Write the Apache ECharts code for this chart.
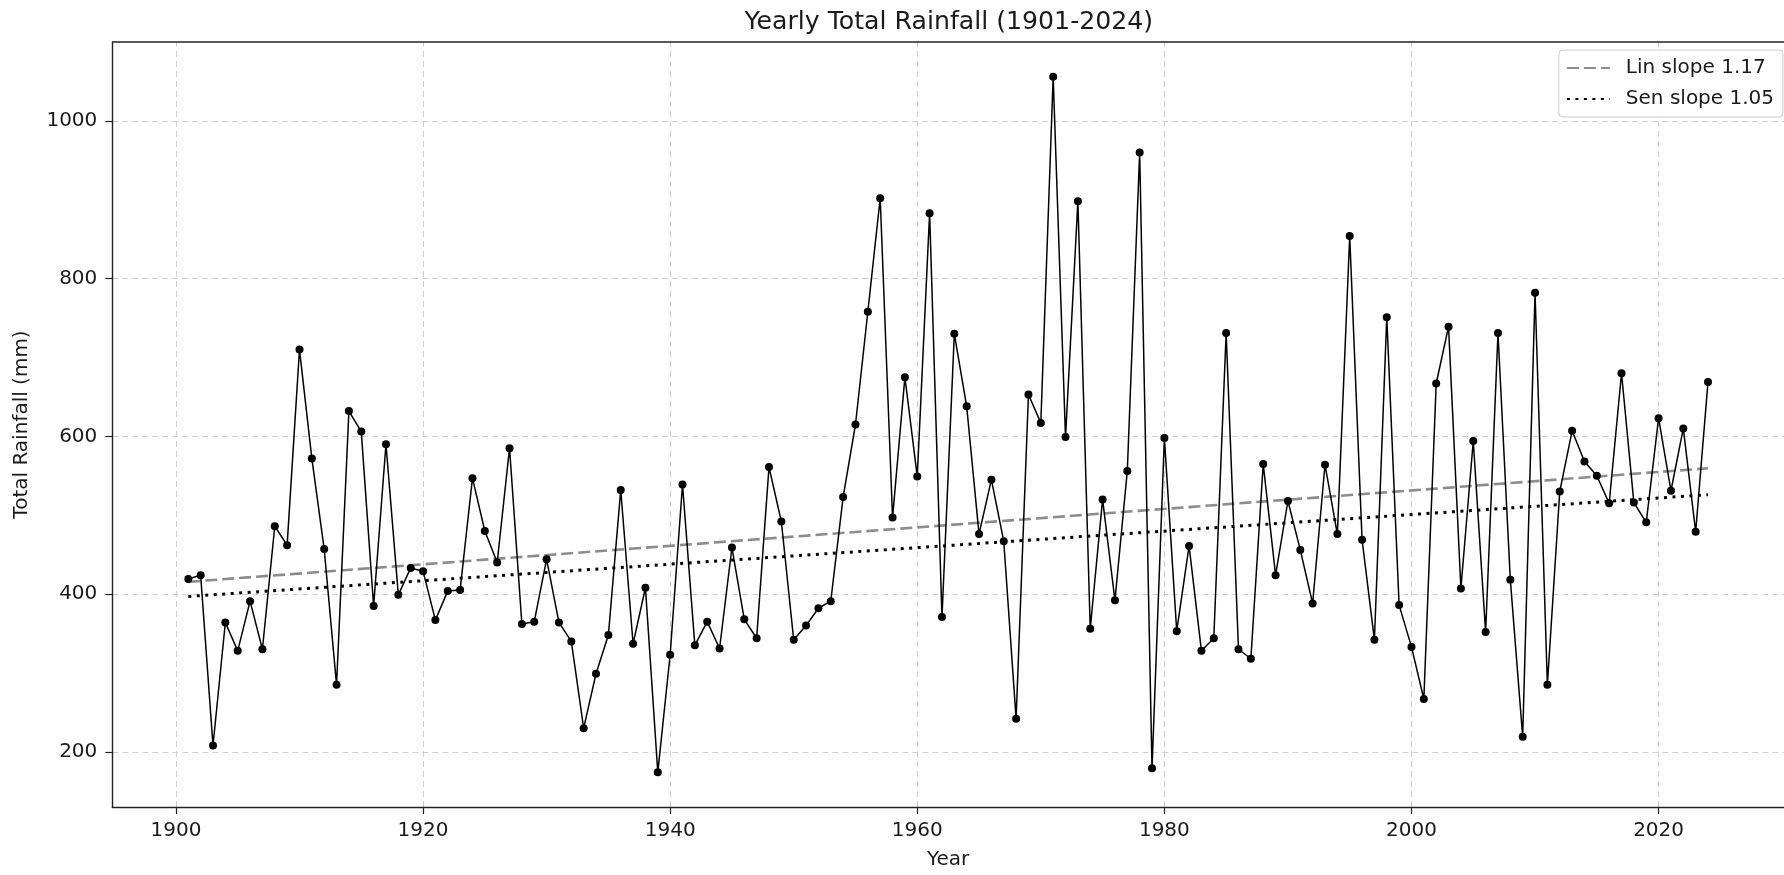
<!DOCTYPE html>
<html>
<head>
<meta charset="utf-8">
<title>Yearly Total Rainfall</title>
<script src="https://cdn.jsdelivr.net/npm/echarts@6/dist/echarts.min.js"></script>
<style>
  html, body { margin: 0; padding: 0; background: #fff; }
  #main { width: 1784px; height: 875px; }
</style>
</head>
<body>
<div id="main"></div>
<script>
// yearly totals, 1901..2024
var firstYear = 1901;
var rainfall = [
  419, 424, 208, 364, 328, 391, 330, 486, 462, 710,
  572, 457, 285, 632, 606, 385, 590, 399, 433, 429,
  367, 404, 405, 547, 480, 440, 585, 362, 365, 444,
  364, 340, 230, 299, 348, 532, 337, 408, 174, 323,
  539, 335, 365, 331, 459, 368, 344, 561, 492, 342,
  360, 382, 391, 523, 615, 758, 902, 497, 675, 549,
  883, 371, 730, 638, 476, 545, 467, 242, 653, 617,
  1056, 599, 898, 356, 520, 392, 556, 960, 179, 598,
  353, 461, 328, 344, 731, 330, 318, 565, 424, 518,
  456, 388, 564, 476, 854, 469, 342, 751, 386, 333,
  267, 667, 739, 407, 594, 352, 731, 418, 219, 782,
  285, 530, 607, 568, 550, 515, 680, 516, 491, 623,
  531, 610, 479, 669
];
// trend line end points
var linTrend = [[1901, 415.5], [2024, 559.5]];
var senTrend = [[1901, 397], [2024, 526]];

var xTicks = [1900, 1920, 1940, 1960, 1980, 2000, 2020];
var yTicks = [200, 400, 600, 800, 1000];

var rainData = rainfall.map(function (v, i) { return [firstYear + i, v]; });

var chart = echarts.init(document.getElementById('main'));

var font = 'DejaVu Sans';
var txt = '#1a1a1a';
var gridStyle = { color: '#cfcfcf', width: 1, type: [6, 4] };
var plain = function (v) { return String(v); };

var option = {
  animation: false,
  backgroundColor: '#fff',
  textStyle: { fontFamily: font },
  title: {
    text: 'Yearly Total Rainfall (1901-2024)',
    left: 744.5,
    top: 10,
    padding: 0,
    textStyle: { fontFamily: font, fontSize: 25.2, fontWeight: 'normal', color: txt }
  },
  legend: {
    data: ['Lin slope 1.17', 'Sen slope 1.05'],
    orient: 'vertical',
    right: 1,
    top: 50,
    padding: [8, 9, 8, 7],
    itemGap: 11,
    itemWidth: 43,
    itemHeight: 20,
    itemStyle: { opacity: 0 },
    backgroundColor: 'rgba(255,255,255,0.85)',
    borderColor: '#cccccc',
    borderWidth: 1,
    borderRadius: 4,
    textStyle: { fontFamily: font, fontSize: 20, color: txt, padding: [0, 0, 0, 11] }
  },
  grid: { left: 112.3, right: -10.5, top: 42, bottom: 61.7, show: false },
  xAxis: {
    type: 'value',
    min: 1894.85,
    max: 2030.15,
    name: 'Year',
    nameLocation: 'middle',
    nameGap: 43,
    nameTextStyle: { fontFamily: font, fontSize: 20, color: txt },
    axisLine: { lineStyle: { color: '#222', width: 1.4 } },
    axisTick: { customValues: xTicks, length: 7, lineStyle: { color: '#222', width: 1.2 } },
    axisLabel: { customValues: xTicks, formatter: plain, margin: 13.5, fontFamily: font, fontSize: 20, color: txt },
    splitLine: { show: false }
  },
  yAxis: {
    type: 'value',
    min: 130,
    max: 1100,
    name: 'Total Rainfall (mm)',
    nameLocation: 'middle',
    nameGap: 81,
    nameTextStyle: { fontFamily: font, fontSize: 20, color: txt },
    axisLine: { show: true, lineStyle: { color: '#222', width: 1.4 } },
    axisTick: { show: true, customValues: yTicks, length: 7, lineStyle: { color: '#222', width: 1.2 } },
    axisLabel: { customValues: yTicks, formatter: plain, margin: 15, fontFamily: font, fontSize: 20, color: txt },
    splitLine: { show: false }
  },
  graphic: [{
    // top spine
    type: 'line',
    shape: { x1: 112.3, y1: 42, x2: 1784, y2: 42 },
    style: { stroke: '#222', lineWidth: 1.4 },
    z: 10
  }],
  series: [
    {
      name: 'grid',
      type: 'line',
      data: [],
      silent: true,
      z: 0,
      markLine: {
        z: 0,
        silent: true,
        symbol: 'none',
        label: { show: false },
        lineStyle: gridStyle,
        data: xTicks.map(function (t) { return { xAxis: t }; })
          .concat(yTicks.map(function (t) { return { yAxis: t }; }))
      }
    },
    {
      name: 'Lin slope 1.17',
      type: 'line',
      data: linTrend,
      symbol: 'none',
      z: 2,
      color: '#8c8c8c',
      lineStyle: { color: '#8c8c8c', width: 2.6, type: [12, 5] }
    },
    {
      name: 'Sen slope 1.05',
      type: 'line',
      data: senTrend,
      symbol: 'none',
      z: 2,
      color: '#000',
      lineStyle: { color: '#000', width: 3, type: [3, 5.5] }
    },
    {
      name: 'Rainfall',
      type: 'line',
      data: rainData,
      symbol: 'circle',
      symbolSize: 8,
      z: 3,
      itemStyle: { color: '#000' },
      lineStyle: { color: '#000', width: 1.5 }
    }
  ]
};

chart.setOption(option);
</script>
</body>
</html>
